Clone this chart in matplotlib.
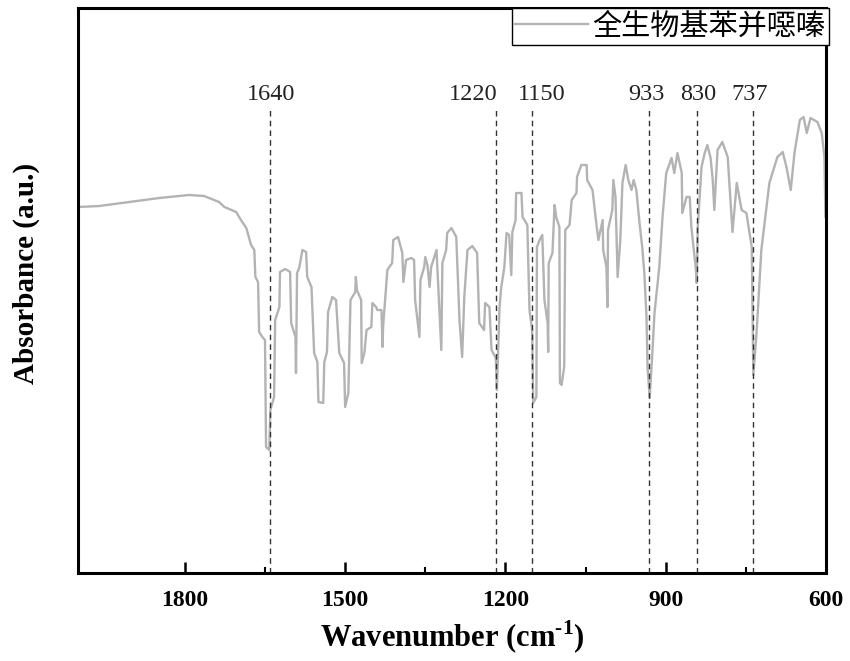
import matplotlib
matplotlib.use('Agg')
import matplotlib.pyplot as plt
from matplotlib.ticker import FixedLocator

# FTIR spectrum
wavenumber = [2000, 1960, 1904, 1848, 1792, 1764, 1736, 1726, 1704, 1695, 1685, 1676, 1670,
              1668, 1663, 1661, 1655, 1650, 1648, 1642, 1640, 1633, 1631, 1623, 1622, 1612,
              1603, 1601, 1593, 1592, 1590, 1586, 1580, 1573, 1571, 1563, 1558, 1552, 1550,
              1541, 1539, 1534, 1532, 1524, 1517, 1511, 1502, 1500, 1494, 1490, 1481, 1480,
              1478, 1470, 1469, 1464, 1460, 1451, 1449, 1442, 1440, 1432, 1430, 1429, 1421,
              1412, 1410, 1401, 1393, 1391, 1386, 1376, 1371, 1369, 1361, 1359, 1352, 1350,
              1346, 1342, 1339, 1329, 1320, 1318, 1311, 1309, 1301, 1292, 1286, 1281, 1277,
              1271, 1262, 1253, 1249, 1240, 1238, 1230, 1226, 1218, 1216, 1211, 1208, 1202,
              1198, 1193, 1189, 1187, 1181, 1180, 1170, 1168, 1159, 1155, 1150, 1148, 1142,
              1141, 1136, 1131, 1127, 1121, 1120, 1119, 1112, 1108, 1105, 1099, 1098, 1095,
              1090, 1088, 1080, 1076, 1067, 1066, 1058, 1048, 1047, 1037, 1030, 1026, 1018,
              1017, 1011, 1009, 1008, 1000, 998, 994, 990, 985, 981, 975, 970, 964, 960, 955,
              949, 944, 940, 936, 934, 930, 925, 921, 912, 906, 899, 889, 884, 878, 870, 869,
              861, 855, 852, 850, 844, 842, 840, 833, 827, 822, 816, 812, 809, 803, 794, 784,
              775, 767, 758, 749, 739, 736, 730, 721, 706, 691, 681, 674, 666, 659, 649, 642,
              636, 629, 616, 608, 603, 601]
absorbance = [3.66, 3.67, 3.71, 3.75, 3.78, 3.77, 3.71, 3.66, 3.61, 3.53, 3.45, 3.28, 3.23,
              2.96, 2.91, 2.41, 2.36, 2.33, 1.26, 1.23, 1.63, 1.76, 2.53, 2.66, 3.01, 3.04,
              3.01, 2.50, 2.36, 2.00, 3.00, 3.05, 3.23, 3.21, 2.96, 2.86, 2.20, 2.11, 1.71,
              1.70, 2.11, 2.21, 2.61, 2.76, 2.73, 2.20, 2.10, 1.66, 1.80, 2.73, 2.81, 2.96,
              2.83, 2.73, 2.10, 2.20, 2.43, 2.46, 2.70, 2.66, 2.63, 2.63, 2.26, 2.46, 3.03,
              3.10, 3.33, 3.36, 3.20, 2.91, 3.13, 3.15, 3.13, 2.73, 2.36, 2.93, 3.06, 3.16,
              3.08, 2.86, 3.06, 3.23, 2.23, 3.10, 3.23, 3.40, 3.45, 3.36, 2.53, 2.16, 2.76,
              3.23, 3.27, 3.20, 2.50, 2.43, 2.70, 2.66, 2.23, 2.15, 1.83, 2.66, 2.85, 3.06,
              3.40, 3.38, 2.98, 3.41, 3.53, 3.80, 3.80, 3.56, 3.48, 2.63, 2.43, 1.70, 1.76,
              3.26, 3.33, 3.38, 2.73, 2.50, 2.21, 3.10, 3.20, 3.68, 3.56, 3.46, 1.90, 1.88,
              2.06, 3.43, 3.48, 3.73, 3.80, 3.96, 4.08, 4.08, 3.93, 3.83, 3.50, 3.33, 3.53,
              3.23, 3.06, 2.66, 3.43, 3.63, 3.93, 3.76, 2.96, 3.33, 3.90, 4.08, 3.93, 3.83,
              3.93, 3.83, 3.50, 3.26, 3.00, 2.56, 2.06, 1.75, 2.20, 2.60, 3.06, 3.56, 4.00,
              4.15, 4.00, 4.20, 4.00, 3.60, 3.76, 3.76, 3.46, 3.36, 3.06, 2.90, 3.46, 4.06,
              4.20, 4.28, 4.15, 3.93, 3.63, 4.23, 4.31, 4.16, 3.41, 3.90, 3.63, 3.60, 3.26,
              1.98, 2.40, 3.23, 3.90, 4.16, 4.21, 4.06, 3.83, 4.20, 4.53, 4.56, 4.40, 4.55,
              4.51, 4.40, 4.16, 3.56]

# marked peaks: where the dashed line sits, and where its label sits
peak_lines = [1640, 1218, 1150, 932, 842, 737]
peak_labels = ['1640', '1220', '1150', '933', '830', '737']
label_pos = [1638, 1260, 1133, 936, 840, 743]

xticks = [1800, 1500, 1200, 900, 600]
xminor = [1650, 1350, 1050, 750]
legend_name = '全生物基苯并噁嗪'

serif = 'Liberation Serif'
plt.rcParams['mathtext.fontset'] = 'custom'
plt.rcParams['mathtext.rm'] = serif
plt.rcParams['mathtext.bf'] = serif + ':bold'

fig = plt.figure(figsize=(8.5, 6.61), dpi=100)
ax = fig.add_axes([78 / 850, 88 / 661, 748 / 850, 565 / 661])

ax.plot(wavenumber, absorbance, color='#b3b3b3', lw=1.7, label=legend_name)

for xp, txt, xl in zip(peak_lines, peak_labels, label_pos):
    ax.plot([xp, xp], [0, 4.63], ls=(0, (4, 3)), color='#333333', lw=1.0)
    ax.text(xl, 4.78, txt, ha='center', va='center', fontsize=17.5,
            family=serif, color='#222222')

ax.set_xlim(2000, 600)
ax.set_ylim(0, 5.65)
ax.set_xticks(xticks)
ax.xaxis.set_minor_locator(FixedLocator(xminor))
ax.set_yticks([])

ax.tick_params(axis='x', which='major', direction='in', length=8, width=1.8, pad=12)
ax.tick_params(axis='x', which='minor', direction='in', length=4, width=1.5)
for lab in ax.get_xticklabels():
    lab.set_fontfamily(serif)
    lab.set_fontweight('bold')
    lab.set_fontsize(17)

for sp in ax.spines.values():
    sp.set_linewidth(2.2)

ax.set_xlabel(r'Wavenumber (cm$^{\mathbf{\text{-}1}}$)', fontsize=22, fontweight='bold',
              family=serif, labelpad=6)
ax.set_ylabel('Absorbance (a.u.)', fontsize=21, fontweight='bold', family=serif)
ax.yaxis.set_label_coords(-0.051, 0.53)

leg = ax.legend(loc='upper right', bbox_to_anchor=(1.004, 1.0), borderaxespad=0,
                prop={'family': ['Noto Sans CJK SC', 'DejaVu Sans'], 'size': 21},
                handlelength=2.5, handletextpad=0.15, borderpad=0.12, fancybox=False,
                framealpha=1, edgecolor='black')
leg.get_frame().set_linewidth(1.0)
leg.get_lines()[0].set_linewidth(1.7)

fig.savefig('out.png', dpi=100)
